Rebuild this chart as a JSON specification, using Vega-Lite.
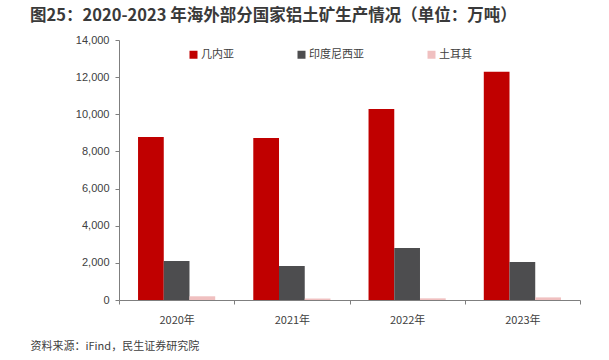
{
  "$schema": "https://vega.github.io/schema/vega-lite/v6.json",
  "autosize": "none",
  "width": 461,
  "height": 260,
  "padding": {"left": 119, "top": 40, "right": 29, "bottom": 60},
  "background": "white",
  "title": {
    "text": "图25：2020-2023 年海外部分国家铝土矿生产情况（单位：万吨）",
    "anchor": "start",
    "frame": "group",
    "dx": -89,
    "offset": 10,
    "fontSize": 16.5,
    "fontWeight": "bold",
    "font": "Noto Sans CJK SC",
    "color": "#3a3a3a"
  },
  "data": {
    "values": [
      {"year": "2020年", "country": "几内亚", "value": 8780},
      {"year": "2020年", "country": "印度尼西亚", "value": 2100},
      {"year": "2020年", "country": "土耳其", "value": 200},
      {"year": "2021年", "country": "几内亚", "value": 8720},
      {"year": "2021年", "country": "印度尼西亚", "value": 1830},
      {"year": "2021年", "country": "土耳其", "value": 80},
      {"year": "2022年", "country": "几内亚", "value": 10290},
      {"year": "2022年", "country": "印度尼西亚", "value": 2800},
      {"year": "2022年", "country": "土耳其", "value": 90},
      {"year": "2023年", "country": "几内亚", "value": 12290},
      {"year": "2023年", "country": "印度尼西亚", "value": 2050},
      {"year": "2023年", "country": "土耳其", "value": 140}
    ]
  },
  "mark": {"type": "bar"},
  "encoding": {
    "x": {
      "field": "year",
      "type": "nominal",
      "scale": {"paddingInner": 0, "paddingOuter": 0},
      "axis": {
        "title": "资料来源：iFind，民生证券研究院",
        "titleX": -89,
        "titleY": 46,
        "titleAlign": "left",
        "titleAnchor": null,
        "titleBaseline": "middle",
        "titleFontWeight": "normal",
        "titleFontSize": 11,
        "titleColor": "#404040",
        "titleFont": "Noto Sans CJK SC",
        "labelAngle": 0,
        "labelFontSize": 11,
        "labelColor": "#404040",
        "labelFont": "Noto Sans CJK SC",
        "labelPadding": 10,
        "tickBand": "extent",
        "tickSize": 4,
        "tickColor": "#7f7f7f",
        "domainColor": "#7f7f7f"
      }
    },
    "xOffset": {
      "field": "country",
      "type": "nominal",
      "sort": ["几内亚", "印度尼西亚", "土耳其"],
      "scale": {"paddingInner": 0, "paddingOuter": 0.74}
    },
    "y": {
      "field": "value",
      "type": "quantitative",
      "scale": {"domain": [0, 14000], "nice": false},
      "axis": {
        "title": null,
        "values": [0, 2000, 4000, 6000, 8000, 10000, 12000, 14000],
        "format": ",.0f",
        "grid": false,
        "labelFontSize": 11,
        "labelColor": "#404040",
        "labelFont": "Liberation Sans",
        "tickSize": 4,
        "tickColor": "#7f7f7f",
        "domainColor": "#7f7f7f",
        "labelPadding": 6
      }
    },
    "color": {
      "field": "country",
      "type": "nominal",
      "sort": ["几内亚", "印度尼西亚", "土耳其"],
      "scale": {"domain": ["几内亚", "印度尼西亚", "土耳其"], "range": ["#c00000", "#4d4d4f", "#f0c0c0"]},
      "legend": {
        "title": null,
        "orient": "none",
        "legendX": 69,
        "legendY": 9,
        "direction": "horizontal",
        "symbolType": "square",
        "symbolSize": 64,
        "symbolStrokeWidth": 0,
        "columnPadding": 62,
        "labelFontSize": 11,
        "labelColor": "#404040",
        "labelFont": "Noto Sans CJK SC",
        "labelOffset": 2
      }
    }
  },
  "config": {"view": {"stroke": null}}
}
